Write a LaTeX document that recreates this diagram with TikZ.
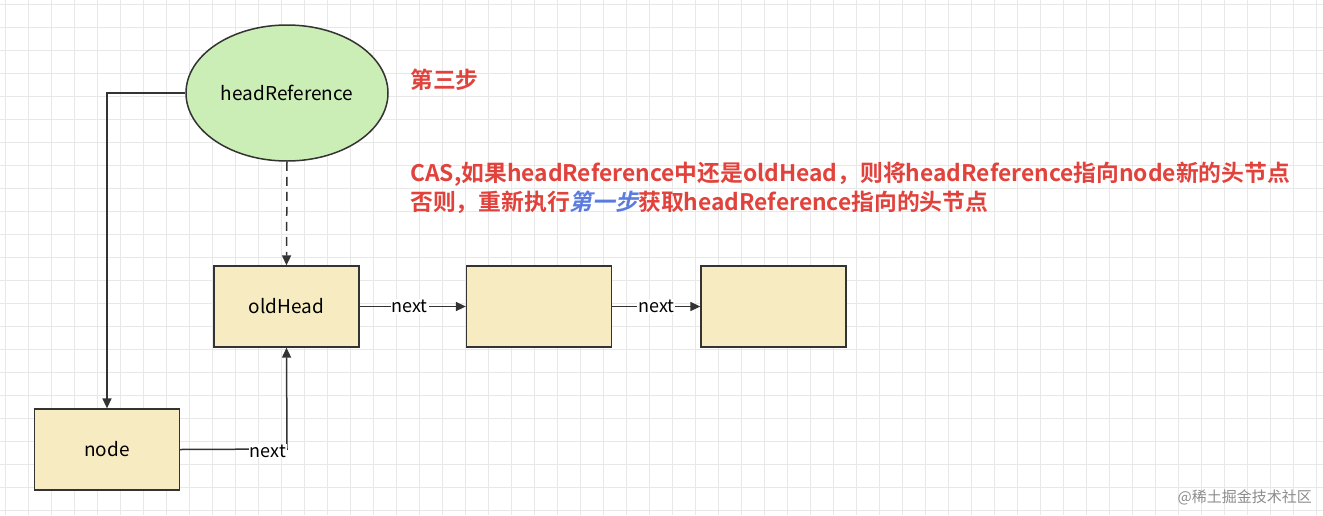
\documentclass[tikz,border=0pt]{standalone}
\usepackage{fontspec}
\setmainfont{Noto Sans CJK SC}
\newfontfamily\cjkb{Noto Sans CJK SC Bold}
\newfontfamily\cjkbi{Noto Sans CJK SC Bold}[FakeSlant=0.22]
\usetikzlibrary{shapes.geometric,arrows.meta}
\definecolor{gridc}{HTML}{E8E8E8}
\definecolor{boxf}{HTML}{F7ECC1}
\definecolor{ellf}{HTML}{CBEDB6}
\definecolor{edge}{HTML}{333333}
\definecolor{redt}{HTML}{E2423C}
\definecolor{bluet}{HTML}{5B7BE0}
\begin{document}
\begin{tikzpicture}[x=1pt,y=-1pt,
  box/.style={draw=edge,line width=1.3pt,fill=boxf,minimum width=145pt,minimum height=81pt,inner sep=0pt,font=\fontsize{19}{21}\selectfont},
  conn/.style={draw=edge,line width=1.5pt,-{Triangle[length=10pt,width=9pt]}},
  lab/.style={fill=white,inner sep=1pt,font=\fontsize{18}{20}\selectfont},
  note/.style={anchor=west,inner sep=0pt,text=redt,font=\cjkb\fontsize{22.8}{26}\selectfont}]
\useasboundingbox (0,0) rectangle (1323,515);
\fill[white] (0,0) rectangle (1323,515);
\foreach \i in {0,...,57} {\draw[gridc,line width=0.8pt] (5+23*\i,0) -- (5+23*\i,515);}
\foreach \j in {0,...,22} {\draw[gridc,line width=0.8pt] (0,4+23*\j) -- (1323,4+23*\j);}
\node[ellipse,draw=edge,line width=1.5pt,fill=ellf,minimum width=202pt,minimum height=136pt,inner sep=0pt,font=\fontsize{19}{21}\selectfont] (hr) at (287,93) {headReference};
\node[box] (old) at (286.5,306.5) {oldHead};
\node[box] (b2) at (539,306.5) {};
\node[box] (b3) at (773.5,306.5) {};
\node[box] (nd) at (107,449.5) {node};
\draw[conn] (hr.west) -| (nd.north);
\draw[conn,dash pattern=on 9pt off 6pt] (hr.south) -- (old.north);
\draw[conn] (old.east) -- node[lab,pos=0.47]{next} (b2.west);
\draw[conn] (b2.east) -- node[lab,pos=0.5]{next} (b3.west);
\coordinate (c1) at (287,449);
\draw[conn] (nd.east) -- (c1) -- (old.south);
\node[lab] (nx) at (268,451) {next};
\node[note] (t1) at (410,80) {第三步};
\node[note] (t2) at (410,174) {CAS,如果headReference中还是oldHead，则将headReference指向node新的头节点};
\node[note] (t3) at (410,202) {否则，重新执行{\color{bluet}\cjkbi 第一步}获取headReference指向的头节点};
\node[anchor=east,text=black!45,font=\fontsize{15}{17}\selectfont,inner sep=0pt] (wm) at (1312,497) {@稀土掘金技术社区};
\end{tikzpicture}
\end{document}
